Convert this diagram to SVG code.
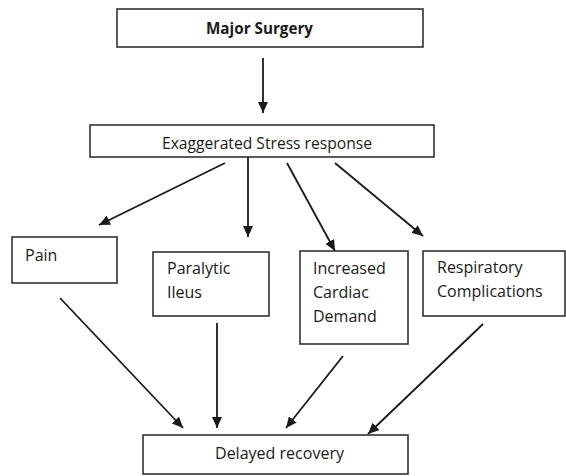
<svg xmlns="http://www.w3.org/2000/svg" width="566" height="476" viewBox="0 0 566 476">
<style>
.box{fill:#fff;stroke:#333;stroke-width:1.6}
.t{font-family:"Open Sans","Noto Sans","Liberation Sans",sans-serif;font-size:16px;fill:#1a1a1a}
.b{font-weight:bold;font-size:15.5px}
.c{stroke:#1a1a1a;stroke-width:1.8;fill:none;marker-end:url(#ah)}
</style>
<defs>
<marker id="ah" markerUnits="userSpaceOnUse" markerWidth="12" markerHeight="10" refX="11" refY="5" orient="auto">
<path d="M0,0 L11,5 L0,10 z" fill="#1a1a1a"/>
</marker>
</defs>
<rect width="566" height="476" fill="#fff"/>
<g id="connectors">
<line class="c" x1="263" y1="58" x2="263" y2="113"/>
<line class="c" x1="225" y1="163" x2="99" y2="225"/>
<line class="c" x1="248" y1="157" x2="248" y2="237"/>
<line class="c" x1="287" y1="163" x2="335" y2="251"/>
<line class="c" x1="335" y1="163" x2="423" y2="236"/>
<line class="c" x1="60" y1="298" x2="183" y2="428"/>
<line class="c" x1="217" y1="323" x2="217" y2="428"/>
<line class="c" x1="343" y1="356" x2="286" y2="428"/>
<line class="c" x1="483" y1="324" x2="368" y2="434"/>
</g>
<g id="major-surgery">
<rect class="box" x="117" y="9" width="306" height="38"/>
<text class="t b" x="259.5" y="34" text-anchor="middle" textLength="107" lengthAdjust="spacingAndGlyphs">Major Surgery</text>
</g>
<g id="stress-response">
<rect class="box" x="90" y="125" width="344" height="32"/>
<text class="t" x="267" y="149" text-anchor="middle" textLength="210" lengthAdjust="spacingAndGlyphs">Exaggerated Stress response</text>
</g>
<g id="pain">
<rect class="box" x="12" y="237" width="105" height="46"/>
<text class="t" x="25" y="261">Pain</text>
</g>
<g id="paralytic-ileus">
<rect class="box" x="153" y="252" width="116" height="64"/>
<text class="t" x="167" y="274">Paralytic</text>
<text class="t" x="167" y="298">Ileus</text>
</g>
<g id="cardiac-demand">
<rect class="box" x="300" y="251" width="108" height="93"/>
<text class="t" x="313" y="274">Increased</text>
<text class="t" x="313" y="298">Cardiac</text>
<text class="t" x="313" y="322">Demand</text>
</g>
<g id="respiratory">
<rect class="box" x="423" y="251" width="142" height="65"/>
<text class="t" x="437" y="273">Respiratory</text>
<text class="t" x="437" y="297">Complications</text>
</g>
<g id="delayed-recovery">
<rect class="box" x="143" y="435" width="265" height="39"/>
<text class="t" x="279.5" y="459" text-anchor="middle" textLength="129" lengthAdjust="spacingAndGlyphs">Delayed recovery</text>
</g>
</svg>
